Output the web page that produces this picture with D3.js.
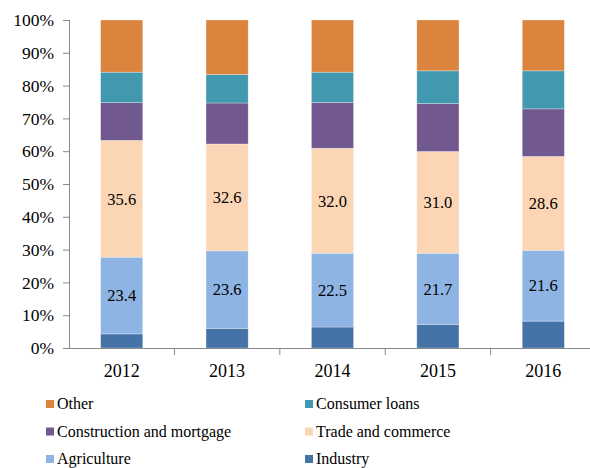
<!DOCTYPE html>
<html>
<head>
<meta charset="utf-8">
<script src="https://cdn.jsdelivr.net/npm/d3@7"></script>
<style>
  body { margin: 0; background: #fff; }
  .axis path, .axis line { stroke: #898989; }
</style>
</head>
<body>
<svg id="chart" width="590" height="468"></svg>
<script>
const years = ["2012", "2013", "2014", "2015", "2016"];
const industry = [4.3, 6.0, 6.4, 7.2, 8.2];
const agriculture = [23.4, 23.6, 22.5, 21.7, 21.6];
const trade = [35.6, 32.6, 32.0, 31.0, 28.6];
const construction = [11.5, 12.5, 14.0, 14.6, 14.5];
const consumer = [9.3, 8.7, 9.2, 10.0, 11.6];
const other = [15.9, 16.6, 15.9, 15.5, 15.5];
const yTicks = [0, 10, 20, 30, 40, 50, 60, 70, 80, 90, 100];

const series_names = ["Industry", "Agriculture", "Trade and commerce",
                      "Construction and mortgage", "Consumer loans", "Other"];
const series_values = [industry, agriculture, trade, construction, consumer, other];
const colors = ["#4572a7", "#8eb4e3", "#fcd5b5", "#71588f", "#4298af", "#db843d"];
const labelled = ["Agriculture", "Trade and commerce"];

const font = "'Liberation Serif', 'Times New Roman', 'DejaVu Serif', serif";

const margin = {left: 69, top: 20, right: -6, bottom: 120};
const width = 590, height = 468;
const innerWidth = width - margin.left - margin.right;
const innerHeight = height - margin.top - margin.bottom;

const rows = years.map((y, i) => {
    const row = {year: y};
    series_names.forEach((s, j) => row[s] = series_values[j][i]);
    return row;
});

const stacked = d3.stack().keys(series_names)(rows);

const svg = d3.select("#chart");
const g = svg.append("g")
             .attr("transform", `translate(${margin.left}, ${margin.top})`);

const xScale = d3.scaleBand()
                 .domain(years)
                 .range([0, innerWidth])
                 .paddingInner(0.6)
                 .paddingOuter(0.3);

const yScale = d3.scaleLinear()
                 .domain([0, 100])
                 .range([innerHeight, 0]);

const color = d3.scaleOrdinal().domain(series_names).range(colors);

// bars
const layer = g.selectAll(".layer")
               .data(stacked)
               .enter()
               .append("g")
               .attr("class", "layer")
               .attr("fill", d => color(d.key));

layer.selectAll("rect")
     .data(d => d)
     .enter()
     .append("rect")
          .attr("x", d => xScale(d.data.year))
          .attr("y", d => yScale(d[1]))
          .attr("width", xScale.bandwidth())
          .attr("height", d => yScale(d[0]) - yScale(d[1]))
          .attr("stroke", "#fff")
          .attr("stroke-opacity", 0.5)
          .attr("stroke-width", 0.6);

// value labels
layer.filter(d => labelled.includes(d.key))
     .selectAll("text")
     .data(d => d.map(p => ({p: p, key: d.key})))
     .enter()
     .append("text")
          .attr("x", d => xScale(d.p.data.year) + xScale.bandwidth() / 2)
          .attr("y", d => yScale((d.p[0] + d.p[1]) / 2))
          .attr("dy", "0.35em")
          .attr("text-anchor", "middle")
          .attr("fill", "#000")
          .attr("font-family", font)
          .attr("font-size", 16.5)
          .text(d => d.p.data[d.key].toFixed(1));

// axes
const step = xScale.step();
const xAxis = d3.axisBottom(xScale).tickSize(0).tickPadding(16);
const yAxis = d3.axisLeft(yScale).tickValues(yTicks).tickSize(6).tickPadding(9)
                .tickFormat(d => d + "%");

const yg = g.append("g")
            .attr("class", "axis")
            .attr("id", "y-axis")
            .call(yAxis);
yg.select(".domain").attr("d", `M0.5,${innerHeight}V0`);
yg.selectAll(".tick text")
  .attr("fill", "#000")
  .attr("font-family", font)
  .attr("font-size", 17.5);

const xg = g.append("g")
            .attr("class", "axis")
            .attr("id", "x-axis")
            .attr("transform", `translate(0, ${innerHeight})`)
            .call(xAxis);
xg.select(".domain").attr("d", `M-5,0.5H${innerWidth}`);
xg.selectAll(".sep")
  .data(years.slice(1))
  .enter()
  .append("line")
     .attr("class", "sep")
     .attr("x1", d => xScale(d) - xScale.padding() * step / 2)
     .attr("x2", d => xScale(d) - xScale.padding() * step / 2)
     .attr("y1", 0)
     .attr("y2", 7);
xg.selectAll(".tick text")
  .attr("dy", "0.71em")
  .attr("fill", "#000")
  .attr("font-family", font)
  .attr("font-size", 18);

// legend
const legend_order = ["Other", "Consumer loans", "Construction and mortgage",
                      "Trade and commerce", "Agriculture", "Industry"];
const legend = svg.append("g").attr("class", "legend");
const item = legend.selectAll("g")
                   .data(legend_order)
                   .enter()
                   .append("g")
                   .attr("transform", (d, i) => `translate(${i % 2 ? 305 : 46}, ${404 + Math.floor(i / 2) * 27.5})`);
item.append("rect")
    .attr("x", 0)
    .attr("y", -4)
    .attr("width", 8)
    .attr("height", 8)
    .attr("fill", d => color(d));
item.append("text")
    .attr("x", 11)
    .attr("dy", "0.33em")
    .attr("font-family", font)
    .attr("font-size", 16)
    .text(d => d);
</script>
</body>
</html>
